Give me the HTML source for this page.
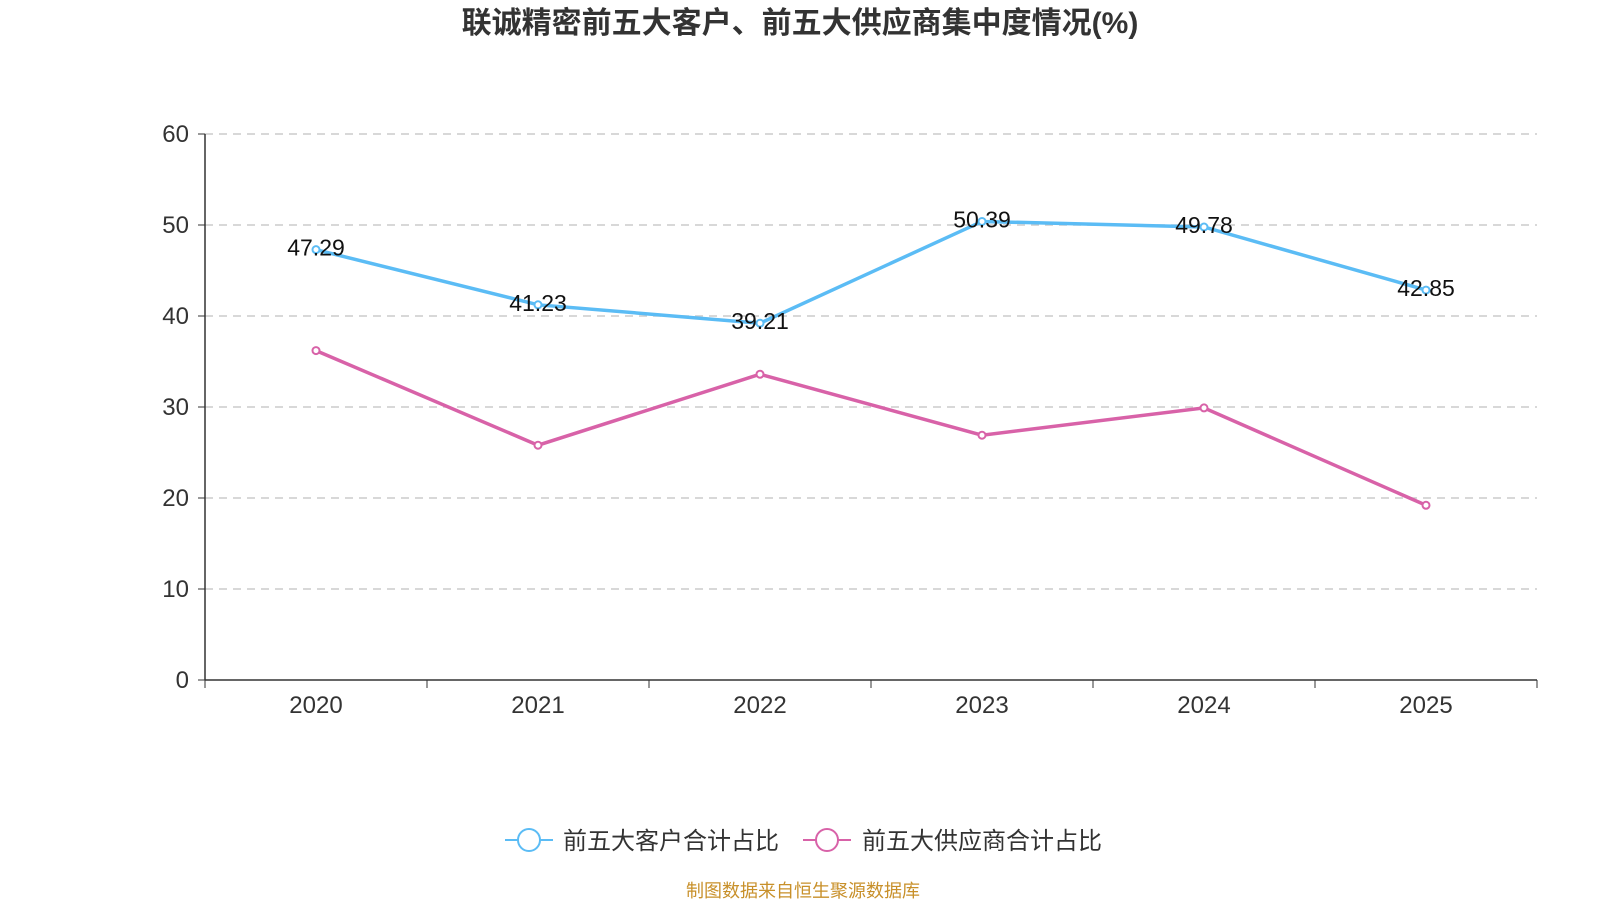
<!DOCTYPE html>
<html><head><meta charset="utf-8"><style>
body{margin:0;background:#fff;font-family:"Liberation Sans","Noto Sans CJK SC",sans-serif;}
svg text{font-family:"Liberation Sans","Noto Sans CJK SC",sans-serif;}
</style></head><body>
<svg id="c" width="1600" height="900" xmlns="http://www.w3.org/2000/svg">
<text x="800" y="33" text-anchor="middle" font-size="30" font-weight="bold" fill="#333">联诚精密前五大客户、前五大供应商集中度情况(%)</text>
<g id="grid"></g><g id="axes"></g><g id="series"></g>
<g>
<g>
<line x1="505" y1="840" x2="553" y2="840" stroke="#5bbcf5" stroke-width="2"/>
<circle cx="529" cy="840" r="11" fill="#fff" stroke="#5bbcf5" stroke-width="2"/>
<text x="563" y="849" font-size="24" fill="#333">前五大客户合计占比</text></g>
<g>
<line x1="803" y1="840" x2="851" y2="840" stroke="#d862a8" stroke-width="2"/>
<circle cx="827" cy="840" r="11" fill="#fff" stroke="#d862a8" stroke-width="2"/>
<text x="862" y="849" font-size="24" fill="#333">前五大供应商合计占比</text></g>
</g>
<text x="803" y="897" text-anchor="middle" font-size="18" fill="#c8902a">制图数据来自恒生聚源数据库</text>
</svg>
<script>
const categories=["2020","2021","2022","2023","2024","2025"];
const customers=[47.29,41.23,39.21,50.39,49.78,42.85];
const suppliers=[36.2,25.8,33.6,26.9,29.9,19.2];
const yTicks=[0,10,20,30,40,50,60];
const NS="http://www.w3.org/2000/svg";
const X0=205,X1=1537,Y0=680,Y1=134,YMAX=60;
const bw=(X1-X0)/categories.length;
const x=i=>X0+bw*(i+0.5);
const y=v=>Y0-(v/YMAX)*(Y0-Y1);
function mk(t,a,p){const e=document.createElementNS(NS,t);for(const k in a)e.setAttribute(k,a[k]);p.appendChild(e);return e;}
const grid=document.getElementById('grid'),axes=document.getElementById('axes'),ser=document.getElementById('series');
yTicks.forEach(v=>{
 if(v>0){const g=mk('line',{x1:X0,x2:X1,y1:y(v),y2:y(v),stroke:'#ccc','stroke-dasharray':'8,6','stroke-width':1.5},grid);
 
 }
 mk('line',{x1:X0-7,x2:X0,y1:y(v),y2:y(v),stroke:'#333'},axes);
 const t=mk('text',{x:X0-16,y:y(v)+8,'text-anchor':'end','font-size':24,fill:'#333'},axes);t.textContent=v;
 
 
});
const ya=mk('line',{x1:X0,x2:X0,y1:Y1,y2:Y0,stroke:'#333','stroke-width':1.5},axes);


const xa=mk('line',{x1:X0,x2:X1,y1:Y0,y2:Y0,stroke:'#333','stroke-width':1.5},axes);


for(let i=0;i<=categories.length;i++)mk('line',{x1:X0+bw*i,x2:X0+bw*i,y1:Y0,y2:Y0+8,stroke:'#333'},axes);
categories.forEach((c,i)=>{const t=mk('text',{x:x(i),y:Y0+33,'text-anchor':'middle','font-size':24,fill:'#333'},axes);t.textContent=c;
 
 });
function draw(data,color,name,labels){
 const p=mk('polyline',{points:data.map((v,i)=>x(i)+','+y(v)).join(' '),fill:'none',stroke:color,'stroke-width':3.5},ser);
 
 
 data.forEach((v,i)=>{const c=mk('circle',{cx:x(i),cy:y(v),r:3.5,fill:'#fff',stroke:color,'stroke-width':2},ser);
  
  
  if(labels){const t=mk('text',{x:x(i),y:y(v)+6,'text-anchor':'middle','font-size':23,fill:'#111'},ser);t.textContent=v.toFixed(2);
  
  }});
}
draw(customers,'#5bbcf5','customers',true);
draw(suppliers,'#d862a8','suppliers',false);
</script>
</body></html>
